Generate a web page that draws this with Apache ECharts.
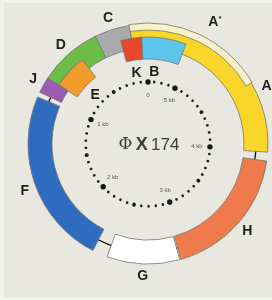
<!DOCTYPE html>
<html lang="en">
  <head>
    <meta charset="UTF-8" />
    <title>Phi X 174</title>
    <script src="https://cdn.jsdelivr.net/npm/echarts@6/dist/echarts.min.js"></script>
    <style>
      body { margin: 0; background: #f2f2ee; }
    </style>
  </head>
  <body>
    <div id="main" style="width: 272px; height: 300px"></div>
    <script>
      // genome length (bp) and gene map, positions
      var genomeLength = 5386;
      var geneNames = ["A", "C", "D", "J", "F", "G", "H", "A*", "K", "B", "E"];
      var geneStart = [3981, 133, 390, 848, 1001, 2395, 2931, 4497, 51, 5075, 568];
      var geneEnd = [136, 393, 848, 964, 2284, 2922, 3917, 136, 221, 51, 843];
      var geneTrack = ["ring", "ring", "ring", "ring", "ring", "ring", "ring", "outer", "inner", "inner", "inner"];
      var geneLabelAt = [4430, 263, 619, 906, 1660, 2658, 3424, 4955, 136, 5310, 705];

      // kb scale in the middle
      var kbTicks = [0, 1000, 2000, 3000, 4000, 5000];
      var kbLabels = ["0", "1 kb", "2 kb", "3 kb", "4 kb", "5 kb"];

      var trackRadius = { ring: [96, 120], outer: [114, 121], inner: [85, 107] };
      var labelRadius = { ring: 132, outer: 139, inner: 72 };
      var geneColors = {
        A: "#fad62a",
        "A*": "#f7f0c8",
        B: "#5cc5ec",
        K: "#e8472b",
        C: "#a8aaac",
        D: "#6bbd46",
        E: "#f39a2d",
        J: "#9a5cb4",
        F: "#2f6cbf",
        G: "#ffffff",
        H: "#ef7b4c",
      };

      var chart = echarts.init(document.getElementById("main"));

      function pxRadius(api, cs, r, bp) {
        var p = api.coord([r, bp]);
        return Math.sqrt((p[0] - cs.cx) * (p[0] - cs.cx) + (p[1] - cs.cy) * (p[1] - cs.cy));
      }

      function pxAngle(api, cs, r, bp) {
        var p = api.coord([r, bp]);
        return Math.atan2(p[1] - cs.cy, p[0] - cs.cx);
      }

      function renderGene(params, api) {
        var cs = params.coordSys;
        var i = params.dataIndex;
        var tr = trackRadius[geneTrack[i]];
        var s = api.value(0);
        var e = api.value(1);
        var a0 = pxAngle(api, cs, tr[1], s);
        var a1 = pxAngle(api, cs, tr[1], e);
        while (a1 > a0) a1 -= Math.PI * 2;
        return {
          type: "sector",
          shape: {
            cx: cs.cx,
            cy: cs.cy,
            r0: pxRadius(api, cs, tr[0], s),
            r: pxRadius(api, cs, tr[1], s),
            startAngle: a0,
            endAngle: a1,
            clockwise: false,
          },
          style: { fill: geneColors[geneNames[i]], stroke: "#76766e", lineWidth: 0.8 },
        };
      }

      function renderGeneLabel(params, api) {
        var i = params.dataIndex;
        var p = api.coord([labelRadius[geneTrack[i]], api.value(0)]);
        var name = geneNames[i];
        var text = name == "A*" ? "{a|A}{s|*}" : "{a|" + name + "}";
        return {
          type: "text",
          x: p[0],
          y: p[1],
          style: {
            text: text,
            align: "center",
            verticalAlign: "middle",
            rich: {
              a: { fontSize: 14, fontWeight: "bold", fontFamily: "Liberation Sans", fill: "#1e1e1e" },
              s: { fontSize: 8, fontWeight: "bold", fontFamily: "Liberation Sans", fill: "#1e1e1e", verticalAlign: "top" },
            },
          },
        };
      }

      function renderKb(params, api) {
        var cs = params.coordSys;
        var p = api.coord([62, api.value(0)]);
        var dx = cs.cx - p[0];
        var dy = cs.cy - p[1];
        var d = Math.sqrt(dx * dx + dy * dy);
        return {
          type: "group",
          children: [
            { type: "circle", shape: { cx: p[0], cy: p[1], r: 2.7 }, style: { fill: "#151515" } },
            {
              type: "text",
              x: p[0] + (dx / d) * 13,
              y: p[1] + (dy / d) * 13,
              style: {
                text: kbLabels[params.dataIndex],
                align: "center",
                verticalAlign: "middle",
                fontSize: 6,
                fontFamily: "Liberation Sans",
                fill: "#555",
              },
            },
          ],
        };
      }

      var hidden = { show: false };

      var option = {
        animation: false,
        backgroundColor: "transparent",
        graphic: [
          {
            type: "rect",
            z: -10,
            silent: true,
            shape: { x: 4, y: 3, width: 268, height: 294 },
            style: { fill: "#e8e7e0" },
          },
          {
            type: "text",
            x: 149,
            y: 145,
            style: {
              text: "{p|Φ} {x|X} {n|174}",
              align: "center",
              verticalAlign: "middle",
              rich: {
                p: { fontSize: 17, fontFamily: "DejaVu Serif", fill: "#3c3c3c" },
                x: { fontSize: 18, fontWeight: "bold", fontFamily: "Liberation Sans", fill: "#3c3c3c" },
                n: { fontSize: 17, fontFamily: "Liberation Sans", fill: "#3c3c3c" },
              },
            },
          },
        ],
        polar: [
          { center: [148, 144], radius: [0, 120] },
          { center: [148, 144], radius: [0, 62] },
          { center: [148, 144], radius: [0, 108] },
        ],
        angleAxis: [
          { polarIndex: 0, type: "value", min: 0, max: genomeLength, startAngle: 90, clockwise: false, show: false },
          {
            polarIndex: 1,
            type: "value",
            min: 0,
            max: genomeLength,
            interval: 500,
            startAngle: 90,
            clockwise: false,
            axisLine: hidden,
            axisLabel: hidden,
            splitLine: hidden,
            axisTick: { show: true, length: 0.5, lineStyle: { color: "#1a1a1a", width: 3.6, cap: "round" } },
            minorTick: { show: true, splitNumber: 5, length: 0.5, lineStyle: { color: "#1a1a1a", width: 2.4, cap: "round" } },
          },
          {
            polarIndex: 2,
            type: "value",
            min: 0,
            max: genomeLength,
            startAngle: 90,
            clockwise: false,
            axisLine: { show: true, lineStyle: { color: "#111", width: 1.3 } },
            axisTick: hidden,
            axisLabel: hidden,
            splitLine: hidden,
          },
        ],
        radiusAxis: [
          { polarIndex: 0, type: "value", min: 0, max: 120, show: false },
          { polarIndex: 1, type: "value", min: 0, max: 62, show: false },
          { polarIndex: 2, type: "value", min: 0, max: 108, show: false },
        ],
        series: [
          {
            type: "custom",
            coordinateSystem: "polar",
            polarIndex: 0,
            renderItem: renderGene,
            data: geneStart.map(function (s, i) {
              return [s, geneEnd[i]];
            }),
          },
          {
            type: "custom",
            coordinateSystem: "polar",
            polarIndex: 0,
            z: 3,
            renderItem: renderGeneLabel,
            data: geneLabelAt.map(function (v) {
              return [v];
            }),
          },
          {
            type: "custom",
            coordinateSystem: "polar",
            polarIndex: 1,
            renderItem: renderKb,
            data: kbTicks.map(function (v) {
              return [v];
            }),
          },
        ],
      };

      chart.setOption(option);
    </script>
  </body>
</html>
